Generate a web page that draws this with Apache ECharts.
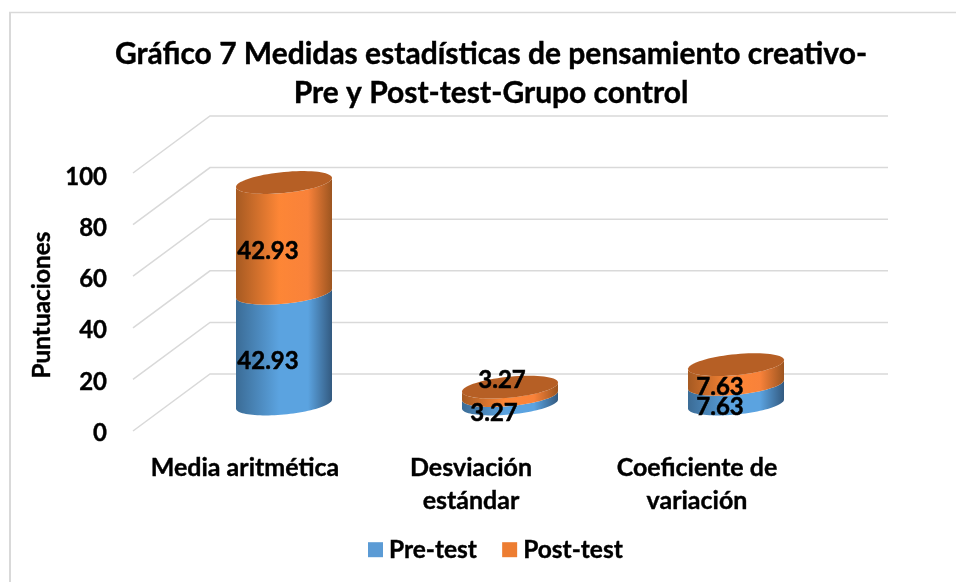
<!DOCTYPE html>
<html><head><meta charset="utf-8">
<style>html,body{margin:0;padding:0;background:#fff}#c{width:956px;height:582px}</style>
<script src="https://cdn.jsdelivr.net/npm/echarts@6/dist/echarts.min.js"></script>
</head><body><div id="c"></div>
<script>
const categories = ['Media aritmética', 'Desviación\nestándar', 'Coeficiente de\nvariación'];
const preTest = [42.93, 3.27, 7.63];
const postTest = [42.93, 3.27, 7.63];
const yTicks = [0, 20, 40, 60, 80, 100];

const FONT = 'Lato';
const DEPTH_X = 77, DEPTH_Y = 57;
const BAR_HALF = 48, CAP_B = 10.5, CAP_TILT = 4.5;
const BLUE = ['#3b6c96', '#5ba3e0', '#5ba3e0', '#335a80'];
const ORANGE = ['#a65a22', '#fd8636', '#f9823a', '#9c5520'];
const CAP_COLOR = '#b65f25';
const labelShift = [[-16, 13], [-8, -11]];
const HEAVY = {textBorderColor: '#000', textBorderWidth: 0.4};

const chart = echarts.init(document.getElementById('c'));

function arc(cx, cy, from, to, n) {
  const pts = [];
  for (let i = 0; i <= n; i++) {
    const t = from + (to - from) * i / n;
    pts.push([cx + BAR_HALF * Math.cos(t), cy + CAP_B * Math.sin(t) - CAP_TILT * Math.cos(t)]);
  }
  return pts;
}
function grad(c) {
  return new echarts.graphic.LinearGradient(0, 0, 1, 0, [
    {offset: 0, color: c[0]}, {offset: .45, color: c[1]}, {offset: .75, color: c[2]}, {offset: 1, color: c[3]}
  ]);
}
function cylinder(params, api) {
  const cat = api.value(0), low = api.value(1), high = api.value(2), isPost = api.value(3) === 1;
  const cx = api.coord([cat, 0])[0];
  const y0 = api.coord([cat, low])[1], y1 = api.coord([cat, high])[1];
  const bottom = arc(cx, y0, Math.PI, 0, 48);
  const top = arc(cx, y1, 0, Math.PI, 48);
  const children = [{
    type: 'polygon', shape: {points: top.concat(bottom)},
    style: {fill: grad(isPost ? ORANGE : BLUE)}
  }];
  if (isPost) {
    children.push({type: 'polygon', shape: {points: arc(cx, y1, 0, Math.PI * 2, 72)}, style: {fill: CAP_COLOR}});
  }
  return {type: 'group', children};
}
function valueLabel(params, api) {
  const cat = api.value(0), low = api.value(1), high = api.value(2), isPost = api.value(3) === 1;
  const p = api.coord([cat, (low + high) / 2]);
  const tiny = cat === 1 && isPost;
  const s = tiny ? labelShift[1] : labelShift[0];
  return {type: 'text', z2: 50, style: {
    x: p[0] + s[0], y: p[1] + s[1], text: api.value(4).toFixed(2),
    fill: '#000', stroke: '#000', lineWidth: 0.5, font: 'bold 24px ' + FONT, align: 'center', verticalAlign: 'middle'
  }};
}
function gridline(params, api) {
  const v = api.value(0), y = api.coord([0, v])[1], cs = params.coordSys;
  return {type: 'polyline', shape: {points: [[cs.x + cs.width, y], [cs.x, y], [cs.x - DEPTH_X, y + DEPTH_Y]]},
    style: {fill: null, stroke: '#d9d9d9', lineWidth: 1.5}};
}

const segs = categories.map((c, i) => [i, 0, preTest[i], 0, preTest[i]]);
const segsPost = categories.map((c, i) => [i, preTest[i], preTest[i] + postTest[i], 1, postTest[i]]);

const axisOff = {show: false};
chart.setOption({
  animation: false,
  backgroundColor: '#fff',
  title: {
    text: 'Gráfico 7 Medidas estadísticas de pensamiento creativo-\nPre y Post-test-Grupo control',
    left: 486, top: 30, textAlign: 'center',
    textStyle: {fontFamily: FONT, fontWeight: 'bold', fontSize: 30, lineHeight: 39, color: '#000', ...HEAVY}
  },
  legend: {
    left: 363, top: 532, itemWidth: 15, itemHeight: 15, itemGap: 25,
    icon: 'rect', selectedMode: false,
    data: [{name: 'Pre-test', itemStyle: {color: '#5b9bd5'}}, {name: 'Post-test', itemStyle: {color: '#ed7d31'}}],
    textStyle: {fontFamily: FONT, fontWeight: 'bold', fontSize: 24.5, color: '#000', padding: [0, 0, 0, 1], ...HEAVY}
  },
  graphic: [
    {type: 'line', silent: true, z: -10, shape: {x1: 10, y1: 12, x2: 10, y2: 582}, style: {stroke: '#d9d9d9', lineWidth: 2}},
    {type: 'line', silent: true, z: -10, shape: {x1: 9, y1: 12.5, x2: 956, y2: 12.5}, style: {stroke: '#d9d9d9', lineWidth: 1.5}}
  ],
  grid: [
    {left: 210, top: 116, width: 678, height: 258},
    {left: 132, top: 177, width: 678, height: 256},
    {left: 171, top: 146, width: 678, height: 258}
  ],
  xAxis: [
    {gridIndex: 0, type: 'category', data: categories, show: false},
    {gridIndex: 1, type: 'category', data: categories,
      axisLine: axisOff, axisTick: axisOff,
      axisLabel: {interval: 0, margin: 18, fontFamily: FONT, fontWeight: 'bold', fontSize: 25, lineHeight: 33, color: '#000', ...HEAVY}},
    {gridIndex: 2, type: 'category', data: categories, show: false}
  ],
  yAxis: [
    {gridIndex: 0, type: 'value', min: 0, max: 100, interval: 20, show: false},
    {gridIndex: 1, type: 'value', min: 0, max: 100, interval: 20,
      name: 'Puntuaciones', nameLocation: 'middle', nameGap: 70, nameRotate: 90,
      nameTextStyle: {fontFamily: FONT, fontWeight: 'bold', fontSize: 24.4, color: '#000', ...HEAVY},
      axisLine: axisOff, axisTick: axisOff, splitLine: axisOff,
      axisLabel: {margin: 25, fontFamily: FONT, fontWeight: 'bold', fontSize: 24, color: '#000', ...HEAVY}},
    {gridIndex: 2, type: 'value', min: 0, max: 100, interval: 20, show: false}
  ],
  series: [
    {type: 'custom', name: 'grid', xAxisIndex: 0, yAxisIndex: 0, z: 1, silent: true, renderItem: gridline,
      encode: {x: 1, y: 0}, data: yTicks.map(v => [v, 0])},
    {type: 'custom', name: 'Pre-test', xAxisIndex: 2, yAxisIndex: 2, z: 3, renderItem: cylinder, data: segs,
      encode: {x: 0, y: [1, 2]}, itemStyle: {color: '#5b9bd5'}},
    {type: 'custom', name: 'Post-test', xAxisIndex: 2, yAxisIndex: 2, z: 4, renderItem: cylinder, data: segsPost,
      encode: {x: 0, y: [1, 2]}, itemStyle: {color: '#ed7d31'}},
    {type: 'custom', name: 'labels', xAxisIndex: 2, yAxisIndex: 2, z: 10, silent: true, renderItem: valueLabel,
      encode: {x: 0, y: [1, 2]}, data: segs.concat(segsPost)}
  ]
});
</script></body></html>
